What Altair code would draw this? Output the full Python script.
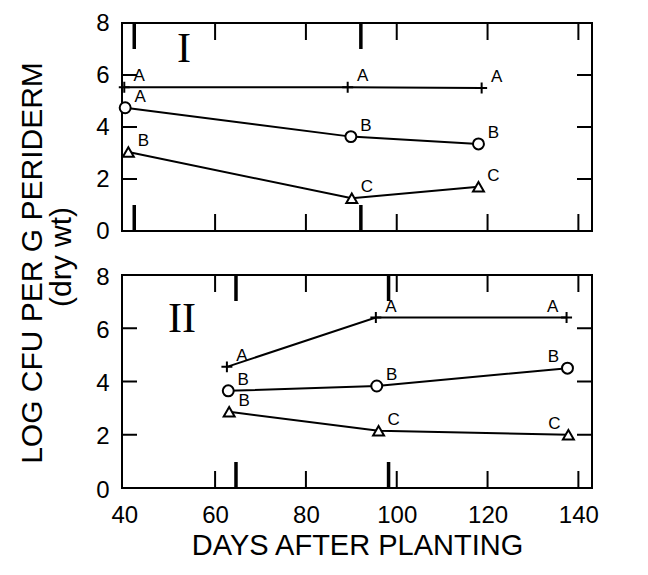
import altair as alt
import pandas as pd

FONT = "Liberation Sans"
SERIF = "Liberation Serif"

# ---------------- data ----------------
series_names = ["plus", "circle", "triangle"]

days_I_plus = [40.0, 89.2, 118.7]
log_I_plus = [5.53, 5.53, 5.50]
let_I_plus = ["A", "A", "A"]
days_I_circle = [40.2, 89.9, 118.0]
log_I_circle = [4.74, 3.63, 3.35]
let_I_circle = ["A", "B", "B"]
days_I_tri = [40.9, 90.1, 118.0]
log_I_tri = [3.04, 1.26, 1.70]
let_I_tri = ["B", "C", "C"]

days_II_plus = [62.6, 95.4, 137.4]
log_II_plus = [4.55, 6.40, 6.40]
let_II_plus = ["A", "A", "A"]
days_II_circle = [62.9, 95.6, 137.6]
log_II_circle = [3.65, 3.83, 4.50]
let_II_circle = ["B", "B", "B"]
days_II_tri = [63.1, 96.0, 137.8]
log_II_tri = [2.86, 2.15, 2.00]
let_II_tri = ["B", "C", "C"]

marker_days_I = [42.2, 92.1]
marker_days_II = [64.6, 98.2]

x_tick_values = [60, 80, 100, 120, 140]
x_label_values = [40, 60, 80, 100, 120, 140]
y_tick_values = [2, 4, 6]
y_label_values = [0, 2, 4, 6, 8]

x_title = "DAYS AFTER PLANTING"
y_title_1 = "LOG CFU PER G PERIDERM"
y_title_2 = "(dry wt)"


def build_df(groups):
    rows = []
    for name, days, logs, lets in groups:
        for d, v, l in zip(days, logs, lets):
            rows.append({"series": name, "day": d, "log": v, "letter": l})
    return pd.DataFrame(rows)


df_I = build_df([
    ("plus", days_I_plus, log_I_plus, let_I_plus),
    ("circle", days_I_circle, log_I_circle, let_I_circle),
    ("triangle", days_I_tri, log_I_tri, let_I_tri),
])
df_II = build_df([
    ("plus", days_II_plus, log_II_plus, let_II_plus),
    ("circle", days_II_circle, log_II_circle, let_II_circle),
    ("triangle", days_II_tri, log_II_tri, let_II_tri),
])

W = 470
PLUS = "M-1,0H1M0,-1V1"


def panel(df, markers, numeral, H, show_x, label_offset, num_pos, extra=None):
    xs = alt.Scale(domain=[39.5, 143], nice=False, zero=False)
    ys = alt.Scale(domain=[0, 8], nice=False, zero=False)
    if show_x:
        xaxis = alt.Axis(values=x_label_values, ticks=False, tickSize=0, domain=False,
                         grid=False, labelPadding=15, labelFlush=False, labelOverlap=False,
                         title=x_title, titleFont=FONT, titleFontSize=29,
                         titleFontWeight="normal", titlePadding=4)
    else:
        xaxis = None
    yaxis = alt.Axis(values=y_label_values, ticks=False, tickSize=0, domain=False,
                     grid=False, labelPadding=13, labelFlush=False, labelOverlap=False,
                     labelOffset=label_offset, title=None)

    X = lambda f: alt.X(f, scale=xs, axis=xaxis)
    Y = lambda f: alt.Y(f, scale=ys, axis=yaxis)

    base = alt.Chart(df)
    line = base.mark_line(color="black", strokeWidth=2).encode(
        x=X("day:Q"), y=Y("log:Q"), detail="series:N")
    pts = base.mark_point(fill="white", stroke="black", strokeWidth=2,
                          opacity=1, fillOpacity=1, size=120).encode(
        x=X("day:Q"), y=Y("log:Q"),
        shape=alt.Shape("series:N", legend=None,
                        scale=alt.Scale(domain=series_names,
                                        range=[PLUS, "circle", "triangle-up"])))
    lab_r = base.transform_filter("datum.day <= 130").mark_text(
        font=FONT, fontSize=17, color="black", dx=15, dy=-11).encode(
        x=X("day:Q"), y=Y("log:Q"), text="letter:N")
    lab_l = base.transform_filter("datum.day > 130").mark_text(
        font=FONT, fontSize=17, color="black", dx=-14, dy=-11).encode(
        x=X("day:Q"), y=Y("log:Q"), text="letter:N")

    ydf = pd.DataFrame({"v": y_tick_values})
    xdf = pd.DataFrame({"v": x_tick_values})
    mdf = pd.DataFrame({"v": markers})
    yl = alt.Chart(ydf).mark_rule(color="black", strokeWidth=2).encode(
        y=Y("v:Q"), x=alt.value(0), x2=alt.value(15))
    yr = alt.Chart(ydf).mark_rule(color="black", strokeWidth=2).encode(
        y=Y("v:Q"), x=alt.value(W - 15), x2=alt.value(W))
    xt = alt.Chart(xdf).mark_rule(color="black", strokeWidth=2).encode(
        x=X("v:Q"), y=alt.value(0), y2=alt.value(17))
    xb = alt.Chart(xdf).mark_rule(color="black", strokeWidth=2).encode(
        x=X("v:Q"), y=alt.value(H - 17), y2=alt.value(H))
    mt = alt.Chart(mdf).mark_rule(color="black", strokeWidth=3.5).encode(
        x=X("v:Q"), y=alt.value(0), y2=alt.value(26))
    mb = alt.Chart(mdf).mark_rule(color="black", strokeWidth=3.5).encode(
        x=X("v:Q"), y=alt.value(H - 26), y2=alt.value(H))

    num = alt.Chart(pd.DataFrame({"t": [numeral]})).mark_text(
        font=SERIF, fontSize=42, color="black", baseline="middle").encode(
        text="t:N", x=alt.value(num_pos[0]), y=alt.value(num_pos[1]))

    layers = [line, pts, lab_r, lab_l, yl, yr, xt, xb, mt, mb, num]
    if extra:
        layers += extra
    return alt.layer(*layers).properties(width=W, height=H)


ytitle1 = alt.Chart(pd.DataFrame({"t": [y_title_1]})).mark_text(
    font=FONT, fontSize=30, color="black", angle=270, baseline="middle").encode(
    text="t:N", x=alt.value(-89), y=alt.value(240))
ytitle2 = alt.Chart(pd.DataFrame({"t": [y_title_2]})).mark_text(
    font=FONT, fontSize=30, color="black", angle=270, baseline="middle").encode(
    text="t:N", x=alt.value(-60), y=alt.value(234))

p1 = panel(df_I, marker_days_I, "I", 208, False, 0, (62, 26), [ytitle1, ytitle2])
p2 = panel(df_II, marker_days_II, "II", 213, True, 2, (60, 44))

chart = alt.vconcat(p1, p2, spacing=44, bounds="flush").properties(
    padding={"left": 8, "top": 2, "right": 5, "bottom": 5}
).configure_view(stroke="black", strokeWidth=2).configure_axis(
    labelFont=FONT, labelFontSize=24, labelColor="black", titleColor="black")

chart.save("out.html", embed_options={"renderer": "svg", "actions": False})
